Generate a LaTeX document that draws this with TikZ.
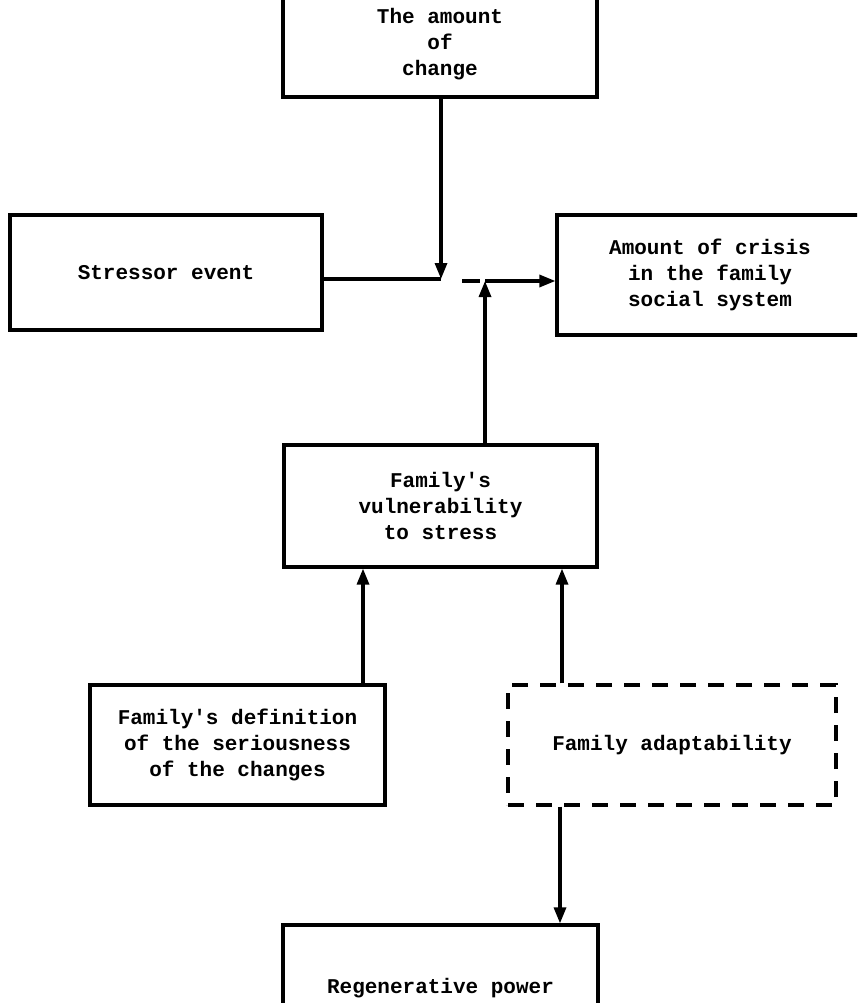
\documentclass[tikz,border=0pt]{standalone}
\usepackage{fontspec}
\setmainfont{Liberation Mono}[Ligatures=TeXOff]
\usetikzlibrary{arrows.meta,calc}
\begin{document}
\begin{tikzpicture}[x=1pt,y=-1pt,
  every node/.style={font=\bfseries\fontsize{21}{26}\selectfont},
  boxnode/.style={draw, line width=3.2pt, align=center, inner sep=0pt},
  dashbox/.style={boxnode, dash pattern=on 16pt off 12pt},
  link/.style={line width=3.2pt},
  arr/.style={link, -{Triangle[length=16pt,width=12pt]}}]
\useasboundingbox (0,0) rectangle (857,1003);
\clip (0,0) rectangle (857,1003);
\fill[white] (0,0) rectangle (857,1003);
% boxes
\node[boxnode, minimum width=314pt, minimum height=106pt] (amount) at (440,44) {The amount\\of\\change};
\node[boxnode, minimum width=312pt, minimum height=115pt] (stressor) at (166,272.5) {Stressor event};
\node[boxnode, minimum width=306pt, minimum height=120pt] (crisis) at (710,275) {Amount of crisis\\in the family\\social system};
\node[boxnode, minimum width=313pt, minimum height=122pt] (vuln) at (440.5,506) {Family's\\vulnerability\\to stress};
\node[boxnode, minimum width=295pt, minimum height=120pt] (def) at (237.5,745) {Family's definition\\of the seriousness\\of the changes};
\node[dashbox, minimum width=328pt, minimum height=120pt] (adapt) at (672,745) {Family adaptability};
\node[boxnode, minimum width=315pt, minimum height=126pt] (regen) at (440.5,988) {Regenerative power};
% junction coordinates
\coordinate (j1) at (441,279);
\coordinate (d1) at (462,281);
\coordinate (d2) at (480,281);
\coordinate (j2) at (485,281);
\coordinate (xa) at (363,0);
\coordinate (xb) at (562,0);
\coordinate (xc) at (560,0);
% connectors
\draw[arr] (amount.south -| j1) -- (j1);
\draw[link] (stressor.east |- j1) -- (j1);
\draw[link] (d1) -- (d2);
\draw[arr] (j2 |- vuln.north) -- (j2);
\draw[arr] (j2) -- (crisis.west |- j2);
\draw[arr] (xa |- def.north) -- (xa |- vuln.south);
\draw[arr] (xb |- adapt.north) -- (xb |- vuln.south);
\draw[arr] (xc |- adapt.south) -- (xc |- regen.north);
\end{tikzpicture}
\end{document}
